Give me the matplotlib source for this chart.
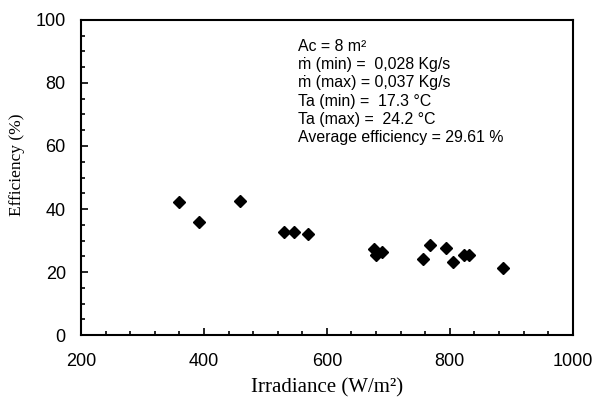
import matplotlib
matplotlib.use('Agg')
import matplotlib.pyplot as plt
from matplotlib.ticker import MultipleLocator

# data
irradiance = [359, 392, 459, 530, 547, 570, 676, 680, 690, 756, 767, 793, 805, 823, 831, 886]
efficiency = [42.2, 35.8, 42.7, 32.6, 32.6, 32.1, 27.4, 25.4, 26.5, 24.3, 28.7, 27.6, 23.3, 25.3, 25.3, 21.4]

info_lines = [
    'Ac = 8 m²',
    'ṁ (min) =  0,028 Kg/s',
    'ṁ (max) = 0,037 Kg/s',
    'Ta (min) =  17.3 °C',
    'Ta (max) =  24.2 °C',
    'Average efficiency = 29.61 %',
]

sans = ['Liberation Sans', 'DejaVu Sans']
serif = ['Liberation Serif', 'DejaVu Serif']

fig = plt.figure(figsize=(5.96, 3.98), dpi=100)
ax = fig.add_axes([0.136, 0.158, 0.825, 0.792])

ax.plot(irradiance, efficiency, linestyle='none', marker='D', color='black',
        markersize=6.5)

ax.set_xlim(200, 1000)
ax.set_ylim(0, 100)
ax.xaxis.set_major_locator(MultipleLocator(200))
ax.xaxis.set_minor_locator(MultipleLocator(40))
ax.yaxis.set_major_locator(MultipleLocator(20))
ax.yaxis.set_minor_locator(MultipleLocator(5))
ax.tick_params(which='both', direction='in', width=1.2)
ax.tick_params(which='major', length=5, labelsize=13, pad=11)
ax.tick_params(axis='x', which='major', pad=13)
ax.tick_params(which='minor', length=3)
for lbl in ax.get_xticklabels() + ax.get_yticklabels():
    lbl.set_family(sans)
for sp in ax.spines.values():
    sp.set_linewidth(1.5)

ax.set_xlabel('Irradiance (W/m²)', family=serif, fontsize=15, labelpad=6)
ax.set_ylabel('Efficiency (%)', family=serif, fontsize=12.5, va='center')
ax.yaxis.set_label_coords(-0.13, 0.54)

ax.text(0.441, 0.94, '\n'.join(info_lines), transform=ax.transAxes,
        va='top', ha='left', family=sans, fontsize=11.4, linespacing=1.27)

fig.savefig('out.png', dpi=100)
